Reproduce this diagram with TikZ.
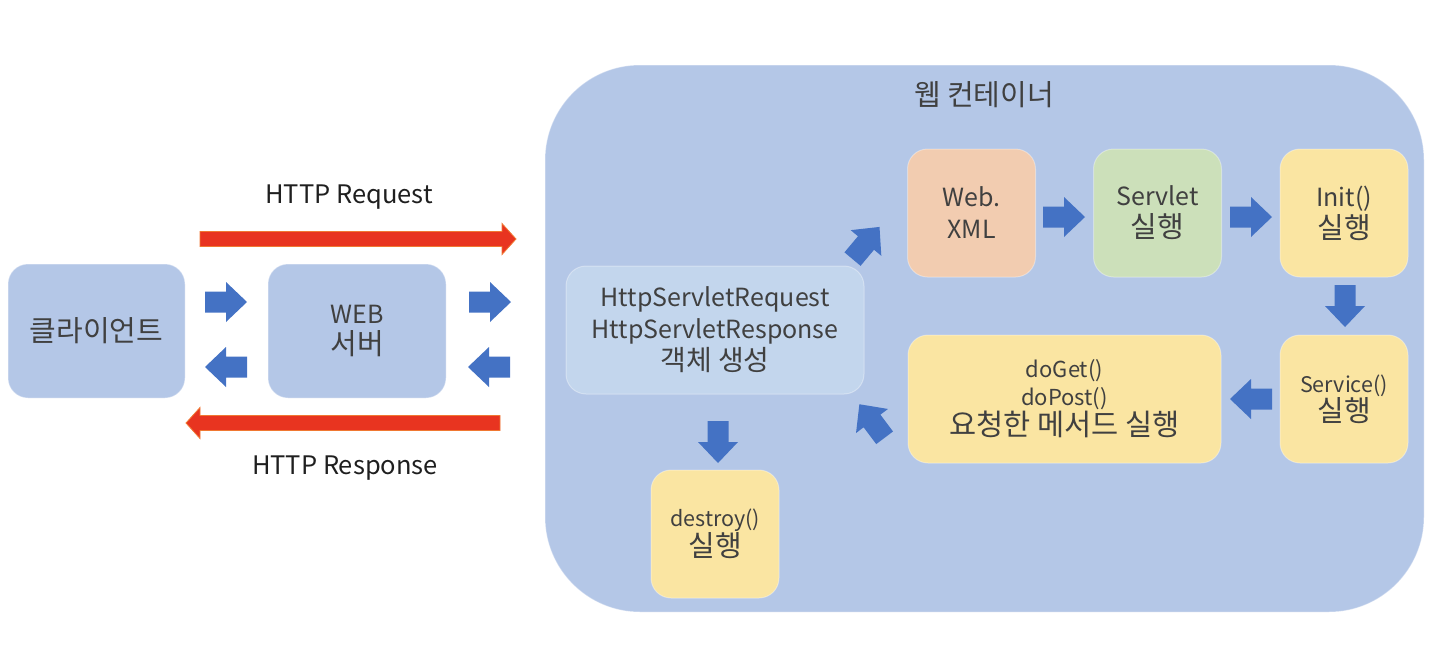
\documentclass[tikz,border=0pt]{standalone}
\usepackage{fontspec}
\setmainfont{Noto Sans CJK KR}
\definecolor{contblue}{RGB}{180,199,231}
\definecolor{hsrblue}{RGB}{195,214,237}
\definecolor{peach}{RGB}{242,204,176}
\definecolor{lgreen}{RGB}{204,224,186}
\definecolor{lyellow}{RGB}{250,229,162}
\definecolor{arrowblue}{RGB}{68,114,196}
\definecolor{redfill}{RGB}{232,52,32}
\definecolor{redline}{RGB}{240,120,50}
\definecolor{txtgray}{RGB}{64,64,64}
\newcommand{\hg}[1]{{\fontsize{29}{30}\selectfont #1}}
\tikzset{
  box/.style={rounded corners=20pt, draw=white, draw opacity=0.35, line width=1pt, align=center, text=txtgray, inner sep=0pt},
  sq/.style={box, minimum width=128pt, minimum height=128pt},
  barrow/.pic={\fill[arrowblue] (-21,-10.5) -- (0,-10.5) -- (0,-20) -- (21,0) -- (0,20) -- (0,10.5) -- (-21,10.5) -- cycle;},
  lbl/.style={text=black!88, font=\fontsize{25.5}{28}\selectfont, inner sep=0pt},
}
\begin{document}
\begin{tikzpicture}[x=1pt,y=-1pt]
\useasboundingbox (0,0) rectangle (1440,654);
% container
\node[box, rounded corners=95pt, fill=contblue, minimum width=879pt, minimum height=547pt] (cont) at (984.5,338.5) {};
\node[text=txtgray, font=\fontsize{29}{30}\selectfont, inner sep=0pt] (conttitle) at (984,95) {웹 컨테이너};
% left part
\node[box, fill=contblue, minimum width=177pt, minimum height=134pt, font=\fontsize{29}{31}\selectfont] (client) at (96.5,331) {클라이언트};
\node[box, fill=contblue, minimum width=178pt, minimum height=134pt, font=\fontsize{25}{31}\selectfont] (web) at (357,331) {WEB\\\hg{서버}};
\node[lbl] (reqlbl) at (349,197) {HTTP Request};
\node[lbl] (reslbl) at (345,468) {HTTP Response};
\fill[redfill, draw=redline, line width=0.8pt] (200,231.5) -- (502,231.5) -- (502,223.5) -- (516,239) -- (502,254.5) -- (502,246.5) -- (200,246.5) -- cycle;
\fill[redfill, draw=redline, line width=0.8pt] (500,415.5) -- (200,415.5) -- (200,407.5) -- (186,423) -- (200,438.5) -- (200,430.5) -- (500,430.5) -- cycle;
\pic at (226,302) {barrow};
\pic[rotate=180] at (226,367) {barrow};
\pic at (490,302) {barrow};
\pic[rotate=180] at (489,367) {barrow};
% container nodes
\node[box, fill=hsrblue, minimum width=298pt, minimum height=128pt, font=\fontsize{25}{32}\selectfont] (hsr) at (715,330) {HttpServletRequest\\HttpServletResponse\\{\fontsize{28}{32}\selectfont 객체 생성}};
\node[sq, fill=peach, font=\fontsize{25}{32}\selectfont] (xml) at (971.5,213) {Web.\\XML};
\node[sq, fill=lgreen, font=\fontsize{25}{32}\selectfont] (servlet) at (1157.5,213) {Servlet\\\hg{실행}};
\node[sq, fill=lyellow, font=\fontsize{25}{32}\selectfont] (init) at (1344,213) {Init()\\\hg{실행}};
\node[sq, fill=lyellow, font=\fontsize{21.5}{28}\selectfont] (service) at (1344,399) {Service()\\\hg{실행}};
\node[box, fill=lyellow, minimum width=313pt, minimum height=128pt, font=\fontsize{22}{28}\selectfont] (doget) at (1064.5,399) {doGet()\\doPost()\\{\fontsize{29.5}{28}\selectfont 요청한 메서드 실행}};
\node[sq, fill=lyellow, font=\fontsize{21.5}{28}\selectfont] (destroy) at (715,534) {destroy()\\\hg{실행}};
% block arrows
\pic[rotate=50] at (866,243) {barrow};
\pic at (1064,217) {barrow};
\pic at (1251,217) {barrow};
\pic[rotate=-90] at (1345,306) {barrow};
\pic[rotate=180] at (1251,399) {barrow};
\pic[rotate=127] at (872,421) {barrow};
\pic[rotate=-90] at (718,442) {barrow};
\end{tikzpicture}
\end{document}
